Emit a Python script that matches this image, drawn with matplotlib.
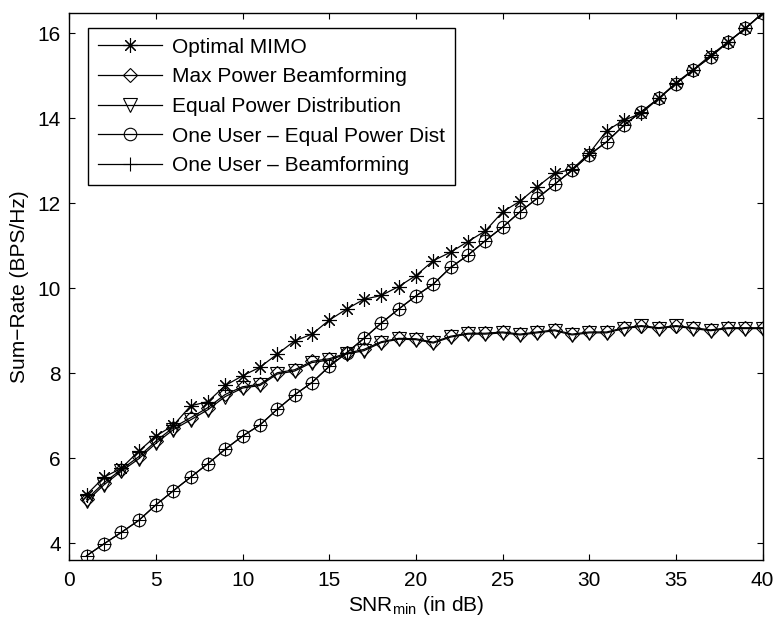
import matplotlib
matplotlib.use("Agg")
import matplotlib.pyplot as plt

plt.rcParams['font.family'] = ['Liberation Sans', 'DejaVu Sans']
plt.rcParams['mathtext.fontset'] = 'custom'
plt.rcParams['mathtext.rm'] = 'Liberation Sans'
plt.rcParams['mathtext.it'] = 'Liberation Sans:italic'

snr_db = list(range(1, 41))

optimal_mimo = [5.14, 5.55, 5.76, 6.16, 6.52, 6.77, 7.23, 7.33, 7.71, 7.94,
                8.14, 8.45, 8.76, 8.92, 9.25, 9.51, 9.74, 9.83, 10.04, 10.30,
                10.65, 10.85, 11.10, 11.35, 11.80, 12.05, 12.39, 12.71, 12.80, 13.18,
                13.71, 13.96, 14.12, 14.47, 14.84, 15.15, 15.49, 15.80, 16.12, 16.48]

max_power_bf = [5.03, 5.42, 5.73, 6.03, 6.40, 6.72, 6.95, 7.19, 7.50, 7.68,
                7.74, 8.01, 8.08, 8.28, 8.34, 8.47, 8.56, 8.74, 8.82, 8.81,
                8.73, 8.87, 8.94, 8.94, 8.97, 8.92, 8.97, 9.02, 8.92, 8.97,
                8.97, 9.07, 9.12, 9.07, 9.12, 9.07, 9.02, 9.07, 9.07, 9.07]

equal_power = [4.98, 5.37, 5.69, 5.98, 6.35, 6.67, 6.90, 7.14, 7.45, 7.65,
               7.71, 7.98, 8.05, 8.25, 8.31, 8.45, 8.53, 8.72, 8.80, 8.79,
               8.71, 8.85, 8.92, 8.92, 8.95, 8.90, 8.95, 9.00, 8.90, 8.95,
               8.95, 9.05, 9.10, 9.05, 9.10, 9.05, 9.00, 9.05, 9.05, 9.05]

one_user_equal = [3.70, 3.98, 4.25, 4.53, 4.90, 5.23, 5.55, 5.87, 6.21, 6.52,
                  6.78, 7.15, 7.49, 7.78, 8.16, 8.48, 8.82, 9.18, 9.51, 9.82,
                  10.10, 10.49, 10.78, 11.12, 11.44, 11.80, 12.12, 12.45, 12.78, 13.14,
                  13.45, 13.84, 14.16, 14.47, 14.82, 15.14, 15.45, 15.80, 16.12, 16.48]

one_user_bf = [3.70, 3.98, 4.25, 4.53, 4.90, 5.23, 5.55, 5.87, 6.21, 6.52,
               6.78, 7.15, 7.49, 7.78, 8.16, 8.48, 8.82, 9.18, 9.51, 9.82,
               10.10, 10.49, 10.78, 11.12, 11.44, 11.80, 12.12, 12.45, 12.78, 13.14,
               13.45, 13.84, 14.16, 14.47, 14.82, 15.14, 15.45, 15.80, 16.12, 16.48]

labels = ["Optimal MIMO", "Max Power Beamforming", "Equal Power Distribution",
          "One User \u2013 Equal Power Dist", "One User \u2013 Beamforming"]
x_ticks = [0, 5, 10, 15, 20, 25, 30, 35, 40]
y_ticks = [4, 6, 8, 10, 12, 14, 16]

fig = plt.figure(figsize=(7.75, 6.22), dpi=100)
ax = fig.add_axes([0.0894, 0.0997, 0.8947, 0.8799])

common = dict(color='black', linewidth=0.9, markeredgecolor='black',
              markeredgewidth=0.8)
ax.plot(snr_db, optimal_mimo, marker=(8, 2, 0), markersize=10.5, label=labels[0], **common)
ax.plot(snr_db, max_power_bf, marker='D', markersize=7.5, markerfacecolor='none',
        label=labels[1], **common)
ax.plot(snr_db, equal_power, marker='v', markersize=9.5, markerfacecolor='none',
        label=labels[2], **common)
ax.plot(snr_db, one_user_equal, marker='o', markersize=9, markerfacecolor='none',
        label=labels[3], **common)
ax.plot(snr_db, one_user_bf, marker='+', markersize=10, label=labels[4], **common)

ax.set_xlim(0, 40)
ax.set_ylim(3.6, 16.49)
ax.set_xticks(x_ticks)
ax.set_yticks(y_ticks)
ax.tick_params(direction='in', length=4.5, width=0.8, top=True, right=True,
               labelsize=15)
ax.tick_params(axis='x', pad=8)
ax.tick_params(axis='y', pad=6)
for sp in ax.spines.values():
    sp.set_linewidth(1.0)

ax.set_xlabel("SNR$_{\\mathrm{min}}$ (in dB)", fontsize=15, labelpad=3)
ax.set_ylabel("Sum\u2212Rate (BPS/Hz)", fontsize=15, labelpad=6)

leg = ax.legend(loc='upper left', bbox_to_anchor=(0.0274, 0.9715), borderaxespad=0,
                fontsize=15, handlelength=3.1, handletextpad=0.48, labelspacing=0.51,
                borderpad=0.45, fancybox=False, framealpha=1, edgecolor='black')
leg.get_frame().set_linewidth(1.0)

fig.savefig("out.png", dpi=100)
